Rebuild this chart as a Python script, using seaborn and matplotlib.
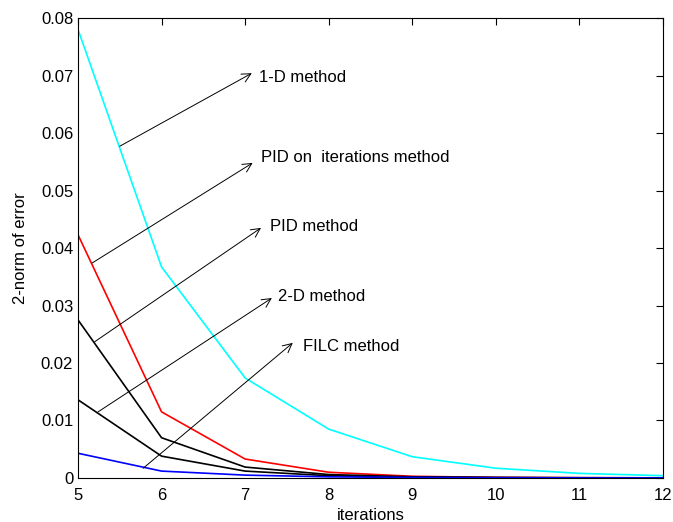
import numpy as np
import pandas as pd
import matplotlib
matplotlib.use('Agg')
import matplotlib.pyplot as plt
import seaborn as sns

iterations = [5, 6, 7, 8, 9, 10, 11, 12]
one_d = [0.0780, 0.0367, 0.0174, 0.0085, 0.0037, 0.0017, 0.0008, 0.0004]
pid_iter = [0.0423, 0.0115, 0.0033, 0.0010, 0.0003, 0.0001, 0.00005, 0.00003]
pid = [0.0275, 0.0070, 0.0019, 0.0006, 0.0002, 0.0001, 0.00005, 0.00002]
two_d = [0.0136, 0.0038, 0.0012, 0.0004, 0.0001, 0.00005, 0.00002, 0.00001]
filc = [0.0043, 0.0012, 0.0005, 0.0002, 0.0001, 0.00004, 0.00002, 0.00001]

series = {'1-D': one_d, 'PID iter': pid_iter, 'PID': pid, '2-D': two_d, 'FILC': filc}
colors = {'1-D': '#00FFFF', 'PID iter': '#FF0000', 'PID': '#000000',
          '2-D': '#000000', 'FILC': '#0000FF'}

# annotation: label, arrow tail, arrow head, text anchor (data coords)
notes = [
    ('1-D method', (5.50, 0.0577), (7.08, 0.0704), (7.17, 0.0696)),
    ('PID on  iterations method', (5.17, 0.0374), (7.09, 0.0548), (7.19, 0.0558)),
    ('PID method', (5.20, 0.0237), (7.19, 0.0435), (7.30, 0.0438)),
    ('2-D method', (5.24, 0.0115), (7.32, 0.0313), (7.39, 0.0315)),
    ('FILC method', (5.78, 0.0017), (7.57, 0.0235), (7.69, 0.0228)),
]

df = pd.concat([pd.DataFrame({'iterations': iterations, 'err': v, 'method': k})
                for k, v in series.items()], ignore_index=True)

sns.set_style('white')
plt.rcParams['font.family'] = ['Liberation Sans', 'DejaVu Sans']
plt.rcParams['text.color'] = 'black'
plt.rcParams['axes.labelcolor'] = 'black'

fig = plt.figure(figsize=(6.73, 5.22), dpi=100)
ax = fig.add_axes([0.1159, 0.0843, 0.8692, 0.8812])
sns.lineplot(data=df, x='iterations', y='err', hue='method', palette=colors,
             linewidth=1.2, legend=False, ax=ax)

for label, tail, head, txt in notes:
    ax.annotate('', xy=head, xytext=tail,
                arrowprops=dict(arrowstyle='->', color='black', lw=0.7,
                                mutation_scale=16, shrinkA=0, shrinkB=0))
    ax.text(txt[0], txt[1], label, fontsize=12, va='center', ha='left')

ax.set_xlim(5, 12)
ax.set_ylim(0, 0.08)
ax.set_xticks(range(5, 13))
yt = np.arange(0, 0.081, 0.01)
ax.set_yticks(yt)
ax.set_yticklabels(['0'] + [f'{v:.2f}' for v in yt[1:]])
ax.tick_params(direction='in', length=5, width=0.8, labelsize=12,
               top=True, right=True, color='black', labelcolor='black')
ax.tick_params(axis='x', pad=7)
for s in ax.spines.values():
    s.set_color('black')
    s.set_linewidth(0.8)
ax.set_xlabel('iterations', fontsize=12, labelpad=4)
ax.set_ylabel('2-norm of error', fontsize=12, labelpad=9)

fig.savefig('out.png', dpi=100)
